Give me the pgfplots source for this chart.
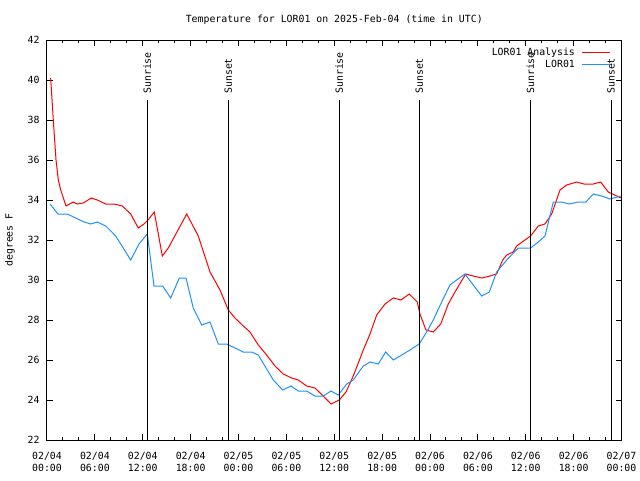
\documentclass[border=0pt]{standalone}
\usepackage{pgfplots}
\pgfplotsset{compat=1.18}
\usepackage{fontspec}
\setmainfont{DejaVu Sans Mono}
\definecolor{gpblue}{RGB}{30,144,255}
\begin{document}
\fontsize{7.4}{8.25}\selectfont
\begin{tikzpicture}
\useasboundingbox (-35.25pt,-30pt) rectangle (444.75pt,330pt);
\begin{axis}[
  scale only axis,
  width=430.9pt, height=300pt,
  xmin=0, xmax=72, ymin=22, ymax=42,
  xtick={0,6,...,72},
  xticklabels={{02/04\\00:00},{02/04\\06:00},{02/04\\12:00},{02/04\\18:00},{02/05\\00:00},{02/05\\06:00},{02/05\\12:00},{02/05\\18:00},{02/06\\00:00},{02/06\\06:00},{02/06\\12:00},{02/06\\18:00},{02/07\\00:00}},
  minor x tick num=2,
  ytick={22,24,...,42},
  tick align=inside,
  major tick length=4.5pt, minor tick length=2.5pt,
  tick style={black, line width=0.75pt},
  axis line style={black, line width=0.75pt},
  /pgf/number format/assume math mode=true,
  xticklabel style={align=center, font=\fontsize{7.4}{9}\selectfont, yshift=-6.5pt},
  yticklabel style={font=\fontsize{7.4}{8.25}\selectfont, xshift=-3pt},
  title={Temperature for LOR01 on 2025-Feb-04 (time in UTC)},
  title style={at={(0.5,1)}, anchor=center, yshift=9pt, font=\fontsize{7.4}{8.25}\selectfont},
  ylabel={degrees F},
  every axis y label/.style={at={(rel axis cs:0,0.5)}, xshift=-27.75pt, rotate=90, anchor=center, font=\fontsize{7.4}{8.25}\selectfont},
  legend style={at={(rel axis cs:1,1)}, anchor=north east, xshift=-8pt, yshift=-4.5pt, draw=none, fill=none, font=\fontsize{7.4}{8.25}\selectfont, row sep=0.8pt, column sep=4pt, inner sep=0pt, nodes={inner sep=1pt}},
  legend cell align=right,
  legend plot pos=right,
  legend image code/.code={\draw[#1] (0pt,0pt) -- (21pt,0pt);},
  clip=false,
]
\addplot[red, line width=0.75pt] coordinates {
(0.46,40.1) (0.79,38.0) (1.13,36.0) (1.42,35.0) (1.72,34.5) (2.38,33.7) (3.30,33.9) (3.80,33.8) (4.55,33.85) (5.55,34.1) (6.30,34.0) (7.36,33.8) (8.40,33.8) (9.44,33.7) (10.49,33.3) (11.44,32.6) (12.16,32.8) (12.66,33.0) (13.45,33.4) (14.45,31.2) (15.20,31.6) (17.51,33.3) (18.96,32.2) (20.43,30.4) (21.68,29.5) (22.72,28.5) (23.56,28.1) (24.60,27.7) (25.44,27.4) (26.48,26.75) (27.53,26.25) (28.57,25.7) (29.61,25.3) (30.66,25.1) (31.49,25.0) (32.54,24.7) (33.58,24.6) (34.62,24.2) (35.59,23.8) (36.63,24.0) (37.47,24.4) (38.38,25.2) (39.64,26.5) (40.48,27.3) (41.32,28.25) (42.36,28.8) (43.40,29.1) (44.36,29.0) (45.40,29.3) (46.40,28.9) (46.74,28.3) (47.49,27.5) (48.41,27.4) (49.34,27.8) (50.29,28.8) (51.13,29.4) (52.47,30.3) (53.42,30.2) (54.47,30.1) (55.51,30.2) (56.35,30.3) (57.11,31.0) (57.61,31.25) (58.43,31.4) (58.86,31.7) (59.90,32.0) (60.61,32.2) (61.57,32.7) (62.41,32.8) (63.25,33.3) (64.29,34.5) (65.13,34.75) (66.38,34.9) (67.29,34.8) (68.46,34.8) (69.39,34.9) (70.34,34.4) (71.39,34.2) (71.9,34.1)
};
\addlegendentry{LOR01 Analysis}
\addplot[gpblue, line width=0.75pt] coordinates {
(0.38,33.8) (1.38,33.3) (2.54,33.3) (3.60,33.1) (4.64,32.9) (5.48,32.8) (6.30,32.9) (7.36,32.7) (8.61,32.2) (10.49,31.0) (11.53,31.8) (12.57,32.3) (13.41,29.7) (14.50,29.7) (15.50,29.1) (16.58,30.1) (17.42,30.1) (18.33,28.6) (19.39,27.75) (20.43,27.9) (21.47,26.8) (22.52,26.8) (24.60,26.4) (25.65,26.4) (26.48,26.25) (28.36,25.0) (29.54,24.5) (30.58,24.7) (31.49,24.45) (32.54,24.45) (33.58,24.2) (34.62,24.2) (35.59,24.45) (36.50,24.25) (37.56,24.8) (38.38,25.0) (39.64,25.7) (40.48,25.9) (41.52,25.8) (42.44,26.4) (43.40,26.0) (44.45,26.25) (45.49,26.5) (46.65,26.8) (47.58,27.4) (48.41,28.0) (49.46,28.9) (50.50,29.75) (51.34,30.0) (52.38,30.3) (53.42,29.75) (54.47,29.2) (55.43,29.4) (56.35,30.4) (57.61,31.0) (59.06,31.6) (60.61,31.6) (61.57,31.9) (62.41,32.2) (63.45,33.9) (64.50,33.9) (65.45,33.8) (66.58,33.9) (67.54,33.9) (68.46,34.3) (69.51,34.2) (70.55,34.05) (71.47,34.15) (71.9,34.2)
};
\addlegendentry{LOR01}
\addplot[black, line width=0.75pt, forget plot] coordinates {(12.57,22) (12.57,39)};
\addplot[black, line width=0.75pt, forget plot] coordinates {(22.72,22) (22.72,39)};
\addplot[black, line width=0.75pt, forget plot] coordinates {(36.63,22) (36.63,39)};
\addplot[black, line width=0.75pt, forget plot] coordinates {(46.65,22) (46.65,39)};
\addplot[black, line width=0.75pt, forget plot] coordinates {(60.58,22) (60.58,39)};
\addplot[black, line width=0.75pt, forget plot] coordinates {(70.70,22) (70.70,39)};
\node[rotate=90, anchor=west, inner sep=0pt] at (axis cs:12.57,39.3) {Sunrise};
\node[rotate=90, anchor=west, inner sep=0pt] at (axis cs:22.72,39.3) {Sunset};
\node[rotate=90, anchor=west, inner sep=0pt] at (axis cs:36.63,39.3) {Sunrise};
\node[rotate=90, anchor=west, inner sep=0pt] at (axis cs:46.65,39.3) {Sunset};
\node[rotate=90, anchor=west, inner sep=0pt] at (axis cs:60.58,39.3) {Sunrise};
\node[rotate=90, anchor=west, inner sep=0pt] at (axis cs:70.70,39.3) {Sunset};
\end{axis}
\end{tikzpicture}
\end{document}
